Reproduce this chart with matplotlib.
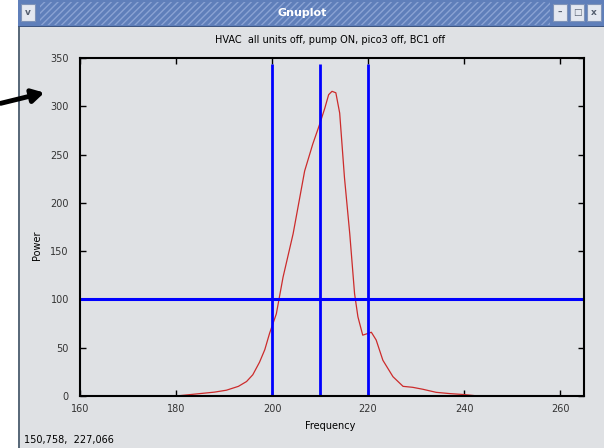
import matplotlib
matplotlib.use("Agg")
from matplotlib import pyplot as plt
from matplotlib.patches import Rectangle, FancyArrowPatch

# data
freq = [180, 185, 188, 190.5, 193, 194.7, 196, 197.4, 198.5, 199.5, 200.9, 202.3,
        204.4, 206.8, 208.5, 209.9, 211, 211.8, 212.5, 213.3, 214.1, 215.1, 216.2,
        217.2, 217.9, 218.9, 220.7, 221.7, 223.1, 225.2, 227.3, 229.3, 231.4,
        234.2, 237, 240, 242]
power = [0, 2.5, 4, 6, 10, 15, 22, 35, 48, 65, 85, 123,
         168, 233, 261, 281, 298, 312, 315.5, 314, 293, 226, 168,
         106, 82, 63, 66, 58, 37, 20, 10, 9, 7,
         3.8, 2.5, 1.5, 0.5]
vlines_x = [200, 210, 220]
hline_y = 100
title = "HVAC  all units off, pump ON, pico3 off, BC1 off"
status = "150,758,  227,066"

W, H = 604, 448
bg = "#dfe1e4"

fig = plt.figure(figsize=(W / 100, H / 100), dpi=100)
fig.patch.set_facecolor("white")


def box(x, y, w, h, **kw):
    # rectangle in pixel coords (y from top), kept behind the axes
    r = Rectangle((x / W, 1 - (y + h) / H), w / W, h / H,
                  transform=fig.transFigure, zorder=-5, **kw)
    fig.add_artist(r)
    return r


# window body and frame
box(18, 0, W - 18, H, facecolor=bg, edgecolor="none")
box(18, 0, 1.5, H, facecolor="#5a6a7a", edgecolor="none")
# title bar
box(18, 0, W - 18, 27, facecolor="#5f7fba", edgecolor="none")
box(40, 2, 510, 23, facecolor="none", edgecolor="#8aa3d3", hatch="/////", lw=0)
box(18, 26, W - 18, 1.5, facecolor="#3d5580", edgecolor="none")
fig.text(302 / W, 1 - 13 / H, "Gnuplot", color="white", fontsize=8,
         fontweight="bold", ha="center", va="center")
# window buttons
for bx, sym in [(21, "v"), (553, "–"), (570, "□"), (587, "x")]:
    box(bx, 4, 14, 17, facecolor="#e4e8f0", edgecolor="#7f93b8", lw=0.8)
    fig.text((bx + 7) / W, 1 - 12.5 / H, sym, color="#555f70", fontsize=6.5,
             fontweight="bold", ha="center", va="center")

# black arrow pointing at the plot
arrow = FancyArrowPatch((-2 / W, 1 - 104 / H), (47 / W, 1 - 92 / H),
                        transform=fig.transFigure,
                        arrowstyle="-|>,head_length=7,head_width=4",
                        color="black", lw=3.5, zorder=5)
fig.add_artist(arrow)

ax = fig.add_axes([80 / W, (H - 396) / H, (584 - 80) / W, (396 - 58) / H])
ax.set_facecolor(bg)

ax.plot(freq, power, color="#cc2b2b", lw=0.9)
ax.vlines(vlines_x, 0, 344, colors="#0000ff", lw=2)
ax.axhline(hline_y, color="#0000ff", lw=2.2)

ax.set_xlim(160, 265)
ax.set_ylim(0, 350)
ax.set_xticks(range(160, 261, 20))
ax.set_yticks(range(0, 351, 50))
ax.tick_params(direction="in", length=4, width=1, top=True, right=True,
               labelsize=7, colors="black", labelcolor="#333333", pad=6)
ax.tick_params(axis="y", pad=8)
for s in ax.spines.values():
    s.set_linewidth(1.5)

fig.text(330 / W, 1 - 40 / H, title, fontsize=7, ha="center", va="center")
fig.text(330 / W, 1 - 426 / H, "Frequency", fontsize=7, ha="center", va="center")
fig.text(37 / W, 1 - 245 / H, "Power", fontsize=7, rotation=90,
         ha="center", va="center")
fig.text(24 / W, 1 - 440 / H, status, fontsize=7, ha="left", va="center")

fig.savefig("out.png", dpi=100, facecolor=fig.get_facecolor())
